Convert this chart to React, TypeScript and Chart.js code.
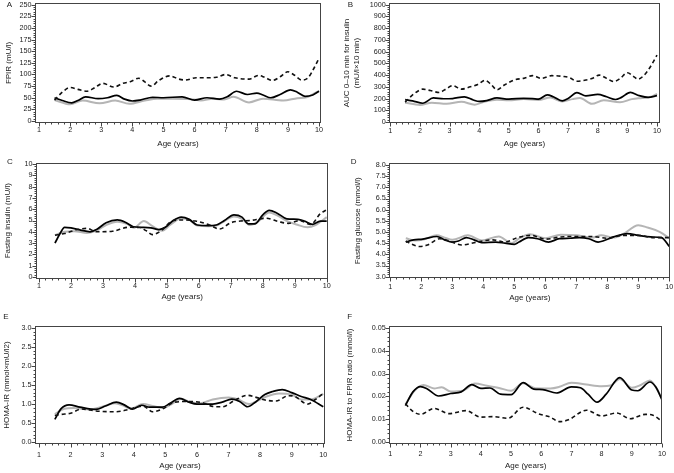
import React, { useEffect, useRef } from "react";
import { Chart, registerables } from "chart.js";

Chart.register(...registerables);

type Pt = [number, number];

// ------------------------------------------------------------------ data
const ageTickLabels = ["1", "2", "3", "4", "5", "6", "7", "8", "9", "10"];
const xTitle = "Age (years)";

// A — FPIR
const fpirTickLabels = ["0", "25", "50", "75", "100", "125", "150", "175", "200", "225", "250"];
const fpirSolid: Pt[] = [[1.5,50],[1.75,44],[2.05,39],[2.25,44],[2.5,52],[2.9,48],[3.2,50],[3.5,55],[3.75,47],[4.0,43],[4.25,45],[4.65,51],[5.0,50],[5.6,52],[6.0,45],[6.4,50],[6.8,47],[7.05,52],[7.35,64],[7.7,57],[8.0,60],[8.2,56],[8.45,50],[8.75,57],[9.08,67],[9.3,62],[9.55,53],[9.8,56],[10,64]];
const fpirGray: Pt[] = [[1.5,45],[2.0,36],[2.4,44],[2.95,38],[3.45,44],[3.9,37],[4.4,44],[4.8,48],[5.3,48],[5.9,47],[6.2,44],[6.6,48],[6.95,46],[7.25,52],[7.75,40],[8.2,48],[8.85,44],[9.3,49],[9.6,51],[10,65]];
const fpirDashed: Pt[] = [[1.5,45],[1.75,62],[2.0,72],[2.25,68],[2.55,64],[2.8,72],[3.05,81],[3.4,73],[3.7,81],[3.95,85],[4.2,92],[4.4,84],[4.6,75],[4.85,87],[5.2,97],[5.5,90],[5.7,88],[6.05,93],[6.4,93],[6.7,94],[7.0,100],[7.3,93],[7.75,90],[8.05,98],[8.25,94],[8.5,87],[8.75,95],[9.0,106],[9.2,99],[9.45,88],[9.65,93],[9.85,115],[10,135]];

// B — AUC 0–10 min for insulin
const aucTickLabels = ["0", "100", "200", "300", "400", "500", "600", "700", "800", "900", "1000"];
const aucSolid: Pt[] = [[1.5,190],[1.75,180],[2.1,160],[2.45,205],[2.8,198],[3.1,200],[3.5,215],[3.8,188],[4.0,175],[4.25,182],[4.6,205],[5.0,195],[5.5,202],[5.8,200],[6.0,195],[6.3,232],[6.5,215],[6.8,180],[7.0,200],[7.3,250],[7.6,222],[8.0,235],[8.3,215],[8.6,192],[8.8,210],[9.1,252],[9.4,225],[9.7,210],[10,225]];
const aucGray: Pt[] = [[1.5,165],[2.0,145],[2.4,165],[2.9,155],[3.4,172],[3.85,148],[4.2,175],[4.6,190],[5.0,185],[5.5,195],[6.0,188],[6.4,208],[6.8,175],[7.15,195],[7.4,205],[7.8,155],[8.2,185],[8.75,168],[9.15,195],[9.5,205],[9.8,215],[10,240]];
const aucDashed: Pt[] = [[1.5,170],[1.8,240],[2.1,280],[2.35,268],[2.65,252],[2.9,285],[3.1,310],[3.4,280],[3.7,300],[3.95,320],[4.2,355],[4.4,320],[4.6,275],[4.85,315],[5.2,360],[5.5,372],[5.8,395],[6.1,372],[6.45,395],[6.85,388],[7.05,378],[7.3,348],[7.6,358],[7.8,370],[8.05,400],[8.3,372],[8.55,345],[8.75,370],[9.0,420],[9.25,380],[9.35,365],[9.55,395],[9.75,460],[10,570]];

// C — Fasting insulin
const insTickLabels = ["0", "1", "2", "3", "4", "5", "6", "7", "8", "9", "10"];
const insSolid: Pt[] = [[1.5,3.0],[1.65,3.8],[1.8,4.4],[2.0,4.35],[2.3,4.15],[2.6,4.0],[2.8,4.2],[3.1,4.8],[3.45,5.05],[3.7,4.85],[3.95,4.45],[4.2,4.4],[4.5,4.35],[4.75,4.2],[4.95,4.4],[5.2,5.0],[5.45,5.3],[5.7,5.1],[5.95,4.6],[6.3,4.55],[6.55,4.6],[6.8,5.0],[7.1,5.5],[7.35,5.3],[7.55,4.7],[7.75,4.7],[8.0,5.5],[8.2,5.9],[8.45,5.65],[8.75,5.15],[9.1,5.1],[9.3,4.95],[9.55,4.65],[9.8,4.95],[10,4.95]];
const insGray: Pt[] = [[1.5,3.7],[1.8,4.0],[2.1,4.05],[2.5,3.9],[2.8,4.1],[3.1,4.6],[3.45,4.9],[3.75,4.7],[3.97,4.36],[4.28,4.95],[4.55,4.5],[4.85,4.1],[5.1,4.6],[5.45,5.2],[5.7,5.05],[5.95,4.55],[6.3,4.5],[6.6,4.6],[6.8,4.95],[7.1,5.35],[7.35,5.15],[7.6,4.6],[7.85,4.9],[8.2,5.7],[8.45,5.45],[8.8,4.9],[9.05,4.65],[9.4,4.4],[9.65,4.6],[10,5.3]];
const insDashed: Pt[] = [[1.5,3.7],[1.8,3.85],[2.2,4.2],[2.5,4.3],[2.8,4.0],[3.3,4.05],[3.8,4.4],[4.15,4.38],[4.35,4.1],[4.55,3.75],[4.8,4.05],[5.2,5.0],[5.5,5.05],[5.9,4.95],[6.3,4.65],[6.65,4.25],[7.0,4.8],[7.3,4.95],[7.6,5.0],[8.1,5.2],[8.5,4.9],[8.8,4.75],[9.15,5.0],[9.5,4.65],[9.8,5.6],[10,5.95]];

// D — Fasting glucose
const gluTickLabels = ["3.0", "3.5", "4.0", "4.5", "5.0", "5.5", "6.0", "6.5", "7.0", "7.5", "8.0"];
const gluSolid: Pt[] = [[1.5,4.55],[1.75,4.65],[2.05,4.68],[2.5,4.8],[2.75,4.65],[3.0,4.55],[3.2,4.6],[3.45,4.75],[3.7,4.65],[3.95,4.52],[4.4,4.55],[4.7,4.5],[5.0,4.45],[5.15,4.55],[5.45,4.75],[5.75,4.7],[6.1,4.55],[6.45,4.7],[6.8,4.72],[7.1,4.75],[7.4,4.7],[7.7,4.55],[7.9,4.62],[8.2,4.78],[8.65,4.93],[9.0,4.85],[9.4,4.78],[9.75,4.75],[10,4.35]];
const gluGray: Pt[] = [[1.5,4.72],[1.8,4.62],[2.1,4.68],[2.5,4.85],[2.75,4.75],[3.0,4.65],[3.5,4.85],[3.95,4.62],[4.5,4.8],[4.9,4.5],[5.2,4.75],[5.5,4.9],[6.0,4.72],[6.5,4.88],[7.0,4.85],[7.5,4.75],[7.8,4.85],[8.2,4.75],[8.5,4.9],[9.0,5.3],[9.3,5.2],[9.7,5.0],[10,4.72]];
const gluDashed: Pt[] = [[1.5,4.6],[1.7,4.45],[1.95,4.35],[2.2,4.42],[2.6,4.7],[2.9,4.6],[3.3,4.42],[3.8,4.55],[4.3,4.65],[4.7,4.55],[5.1,4.75],[5.55,4.85],[6.0,4.68],[6.5,4.78],[7.0,4.8],[7.5,4.8],[8.0,4.72],[8.5,4.85],[9.0,4.85],[9.5,4.75],[10,4.75]];

// E — HOMA-IR
const homaTickLabels = ["0.0", "0.5", "1.0", "1.5", "2.0", "2.5", "3.0"];
const homaSolid: Pt[] = [[1.5,0.6],[1.7,0.88],[1.95,0.98],[2.3,0.92],[2.8,0.86],[3.1,0.95],[3.45,1.05],[3.7,0.98],[3.95,0.87],[4.25,0.97],[4.5,0.92],[4.9,0.92],[5.15,1.02],[5.45,1.15],[5.75,1.05],[6.0,1.0],[6.5,1.0],[6.8,1.05],[7.1,1.13],[7.35,1.07],[7.6,0.93],[7.85,1.05],[8.15,1.25],[8.4,1.33],[8.7,1.38],[9.0,1.3],[9.3,1.2],[9.6,1.12],[10,0.93]];
const homaGray: Pt[] = [[1.5,0.74],[1.8,0.88],[2.1,0.9],[2.6,0.86],[3.0,0.93],[3.4,1.02],[3.65,0.97],[3.9,0.88],[4.3,1.0],[4.6,0.95],[4.9,0.9],[5.2,1.0],[5.5,1.14],[5.8,1.05],[6.1,1.02],[6.5,1.12],[7.0,1.17],[7.3,1.12],[7.65,1.0],[7.9,1.08],[8.2,1.2],[8.6,1.28],[9.0,1.25],[9.3,1.12],[9.6,1.12],[10,1.27]];
const homaDashed: Pt[] = [[1.5,0.7],[1.7,0.73],[2.0,0.76],[2.35,0.87],[2.8,0.82],[3.4,0.8],[3.8,0.85],[4.1,0.92],[4.3,0.95],[4.6,0.8],[4.9,0.87],[5.3,1.05],[5.8,1.07],[6.2,1.03],[6.5,0.94],[6.8,0.93],[7.2,1.1],[7.6,1.23],[7.9,1.17],[8.2,1.1],[8.5,1.08],[8.9,1.22],[9.1,1.2],[9.5,1.0],[9.75,1.12],[10,1.28]];

// F — HOMA-IR to FPIR ratio
const ratioTickLabels = ["0.00", "0.01", "0.02", "0.03", "0.04", "0.05"];
const ratioSolid: Pt[] = [[1.5,0.016],[1.75,0.022],[2.0,0.0243],[2.2,0.0235],[2.6,0.0202],[3.0,0.0213],[3.35,0.022],[3.7,0.0252],[4.0,0.0235],[4.3,0.0237],[4.65,0.021],[5.0,0.0208],[5.4,0.026],[5.75,0.0232],[6.05,0.023],[6.5,0.0215],[7.0,0.0242],[7.3,0.0238],[7.55,0.021],[7.85,0.0175],[8.15,0.021],[8.6,0.0282],[9.0,0.0228],[9.2,0.0225],[9.6,0.0263],[9.8,0.024],[10,0.0185]];
const ratioGray: Pt[] = [[1.5,0.0165],[1.8,0.0225],[2.1,0.025],[2.45,0.0235],[2.7,0.024],[3.0,0.0222],[3.4,0.0225],[3.8,0.0256],[4.2,0.0247],[4.6,0.0237],[5.0,0.0225],[5.4,0.0258],[5.8,0.0236],[6.3,0.0235],[6.6,0.0242],[7.0,0.026],[7.5,0.0252],[8.0,0.0245],[8.3,0.0248],[8.6,0.0276],[9.0,0.0238],[9.3,0.025],[9.6,0.027],[10,0.0192]];
const ratioDashed: Pt[] = [[1.5,0.0168],[1.75,0.0135],[2.0,0.0122],[2.45,0.0148],[2.95,0.0125],[3.5,0.0138],[4.0,0.011],[4.4,0.0112],[4.9,0.0105],[5.4,0.0153],[5.9,0.0125],[6.3,0.011],[6.6,0.009],[6.9,0.0098],[7.5,0.014],[8.0,0.0115],[8.5,0.0128],[8.95,0.0103],[9.45,0.0122],[9.7,0.0118],[10,0.0092]];

// ------------------------------------------------------------------ panels
interface PanelDef {
  letter: string;
  yTitle: string | string[];
  yTicks: string[];
  yMinorPerMajor: number;
  solid: Pt[];
  gray: Pt[];
  dashed: Pt[];
  box: { l: number; t: number; r: number; b: number };
  xRange: [number, number];
  yRange: [number, number];
  yTitleX: number;
  xTickY: number;
  xTitleY: number;
  letterXY: [number, number];
}

const panels: PanelDef[] = [
  { letter: "A", yTitle: "FPIR (mU/l)", yTicks: fpirTickLabels, yMinorPerMajor: 5,
    solid: fpirSolid, gray: fpirGray, dashed: fpirDashed,
    box: { l: 35, t: 3.3, r: 321, b: 122.7 }, xRange: [0.871, 10.064], yRange: [-3.65, 253],
    yTitleX: 8.3, xTickY: 130.5, xTitleY: 144, letterXY: [9.3, 5] },
  { letter: "B", yTitle: ["AUC 0\u201310 min for insulin", "(mU/l\u00d710 min)"], yTicks: aucTickLabels, yMinorPerMajor: 5,
    solid: aucSolid, gray: aucGray, dashed: aucDashed,
    box: { l: 389.3, t: 3.3, r: 659.7, b: 122.7 }, xRange: [0.966, 10.091], yRange: [-6, 1012],
    yTitleX: 347, xTickY: 130.7, xTitleY: 144, letterXY: [350.3, 4.7] },
  { letter: "C", yTitle: "Fasting insulin (mU/l)", yTicks: insTickLabels, yMinorPerMajor: 5,
    solid: insSolid, gray: insGray, dashed: insDashed,
    box: { l: 36, t: 162.7, r: 328.3, b: 278.7 }, xRange: [0.906, 10.05], yRange: [-0.15, 10.115],
    yTitleX: 8, xTickY: 286, xTitleY: 297, letterXY: [10, 161.7] },
  { letter: "D", yTitle: "Fasting glucose (mmol/l)", yTicks: gluTickLabels, yMinorPerMajor: 5,
    solid: gluSolid, gray: gluGray, dashed: gluDashed,
    box: { l: 389.3, t: 163.3, r: 670.3, b: 278.3 }, xRange: [0.968, 10.03], yRange: [2.928, 8.076],
    yTitleX: 357.7, xTickY: 286.7, xTitleY: 297.3, letterXY: [353.7, 161.7] },
  { letter: "E", yTitle: "HOMA-IR (mmol\u00d7mU/l2)", yTicks: homaTickLabels, yMinorPerMajor: 5,
    solid: homaSolid, gray: homaGray, dashed: homaDashed,
    box: { l: 35, t: 326, r: 325, b: 444 }, xRange: [0.873, 10.054], yRange: [-0.0445, 3.0445],
    yTitleX: 6.7, xTickY: 455, xTitleY: 466, letterXY: [6, 316.7] },
  { letter: "F", yTitle: "HOMA-IR to FPIR ratio (mmol/l)", yTicks: ratioTickLabels, yMinorPerMajor: 5,
    solid: ratioSolid, gray: ratioGray, dashed: ratioDashed,
    box: { l: 389.3, t: 326, r: 662, b: 444 }, xRange: [0.967, 10.0], yRange: [-0.00074, 0.05074],
    yTitleX: 350, xTickY: 454.5, xTitleY: 466, letterXY: [349.7, 316.7] },
];

// ------------------------------------------------------------------ styling
const FONT = '"Liberation Sans", Arial, Helvetica, sans-serif';
const TEXT = "#222";
const FRAME = "#444";
const TICK_SIZE = 7.2;
const TICK_LH = TICK_SIZE * 1.2;
const TITLE_SIZE = 8;
const TITLE_LH = 10;

function makeFramePlugin(xVals: number[], yVals: number[], n: number) {
  return {
    id: "frameTicks",
    afterDraw(chart: any) {
      const ctx: CanvasRenderingContext2D = chart.ctx;
      const a = chart.chartArea;
      const xs = chart.scales.x;
      const ys = chart.scales.y;
      ctx.save();
      ctx.strokeStyle = FRAME;
      ctx.lineWidth = 1;
      ctx.setLineDash([]);
      const L = Math.round(a.left) + 0.5;
      const R = Math.round(a.right) - 0.5;
      const T = Math.round(a.top) + 0.5;
      const B = Math.round(a.bottom) - 0.5;
      ctx.strokeRect(L, T, R - L, B - T);
      ctx.beginPath();
      const xStep = (xVals[1] - xVals[0]) / 5;
      for (let k = 0; k <= (xVals.length - 1) * 5; k++) {
        const v = xVals[0] + k * xStep;
        const px = Math.round(xs.getPixelForValue(v)) + 0.5;
        const len = k % 5 === 0 ? 4 : 2;
        ctx.moveTo(px, B);
        ctx.lineTo(px, B + len);
      }
      const yStep = (yVals[1] - yVals[0]) / n;
      for (let k = 0; k <= (yVals.length - 1) * n; k++) {
        const v = yVals[0] + k * yStep;
        const py = Math.round(ys.getPixelForValue(v)) + 0.5;
        const len = k % n === 0 ? 4 : 2;
        ctx.moveTo(L, py);
        ctx.lineTo(L - len, py);
      }
      ctx.stroke();
      ctx.restore();
    },
  };
}

function geometry(p: PanelDef) {
  const titleLeft = p.yTitleX - TITLE_LH / 2;
  const cl = Math.floor(titleLeft);
  const ct = Math.floor(p.box.t - 12);
  const cw = Math.ceil(p.box.r + 14 - cl);
  const titleBottom = p.xTitleY + TITLE_LH / 2;
  const ch = Math.ceil(titleBottom - ct) + 2;
  return {
    cl, ct, cw, ch,
    padding: { left: 0, top: p.box.t - ct, right: cl + cw - p.box.r, bottom: ct + ch - titleBottom },
    yw: p.box.l - cl,
    xh: titleBottom - p.box.b,
    yTitlePad: titleLeft - cl,
    xTickPad: p.xTickY - p.box.b - TICK_LH / 2,
  };
}

const line = (pts: Pt[], color: string, width: number, dash: number[], order: number) => ({
  data: pts.map(([x, y]) => ({ x, y })),
  borderColor: color,
  backgroundColor: color,
  borderWidth: width,
  borderDash: dash,
  pointRadius: 0,
  fill: false,
  cubicInterpolationMode: "monotone" as const,
  order,
});

function Panel({ p }: { p: PanelDef }) {
  const ref = useRef<HTMLCanvasElement>(null);
  const g = geometry(p);
  useEffect(() => {
    if (!ref.current) return;
    const xTickVals = ageTickLabels.map(Number);
    const yTickVals = p.yTicks.map(Number);
    const chart = new Chart(ref.current, {
      type: "line",
      data: {
        datasets: [
          line(p.dashed, "#111", 1.6, [4, 3], 0),
          line(p.solid, "#000", 1.7, [], 1),
          line(p.gray, "#b5b5b5", 2, [], 2),
        ],
      },
      options: {
        responsive: false,
        animation: false,
        events: [],
        layout: { padding: g.padding },
        plugins: {
          legend: { display: false },
          tooltip: { enabled: false },
        },
        scales: {
          x: {
            type: "linear",
            min: p.xRange[0],
            max: p.xRange[1],
            grid: { display: false, drawTicks: false },
            border: { display: false },
            afterBuildTicks: (s: any) => { s.ticks = xTickVals.map((v) => ({ value: v })); },
            afterFit: (s: any) => { s.height = g.xh; },
            ticks: {
              autoSkip: false, maxRotation: 0, padding: g.xTickPad, color: TEXT,
              font: { family: FONT, size: TICK_SIZE, lineHeight: 1.2 },
              callback: (_v: any, i: number) => ageTickLabels[i],
            },
            title: {
              display: true, text: xTitle, color: TEXT,
              font: { family: FONT, size: TITLE_SIZE, lineHeight: TITLE_LH / TITLE_SIZE },
              padding: { top: 0, bottom: 0 },
            },
          },
          y: {
            type: "linear",
            min: p.yRange[0],
            max: p.yRange[1],
            grid: { display: false, drawTicks: false },
            border: { display: false },
            afterBuildTicks: (s: any) => { s.ticks = yTickVals.map((v) => ({ value: v })); },
            afterFit: (s: any) => { s.width = g.yw; },
            ticks: {
              autoSkip: false, padding: 3.5, color: TEXT,
              font: { family: FONT, size: TICK_SIZE, lineHeight: 1.2 },
              callback: (_v: any, i: number) => p.yTicks[i],
            },
            title: {
              display: true, text: p.yTitle as any, color: TEXT,
              font: { family: FONT, size: TITLE_SIZE, lineHeight: TITLE_LH / TITLE_SIZE },
              padding: { top: g.yTitlePad, bottom: 0 },
            },
          },
        },
      } as any,
      plugins: [makeFramePlugin(xTickVals, yTickVals, p.yMinorPerMajor)],
    });
    return () => chart.destroy();
  }, []);
  return (
    <>
      <canvas
        ref={ref}
        width={g.cw}
        height={g.ch}
        style={{ position: "absolute", left: g.cl, top: g.ct, width: g.cw, height: g.ch }}
      />
      <div
        style={{
          position: "absolute", left: p.letterXY[0], top: p.letterXY[1],
          transform: "translate(-50%, -50%)", font: `8px ${FONT}`, color: TEXT, lineHeight: 1,
        }}
      >
        {p.letter}
      </div>
    </>
  );
}

export default function App() {
  return (
    <div
      style={{
        position: "absolute", left: 0, top: 0, width: 674, height: 473,
        overflow: "hidden", background: "#fff",
      }}
    >
      {panels.map((p) => (
        <Panel key={p.letter} p={p} />
      ))}
    </div>
  );
}
